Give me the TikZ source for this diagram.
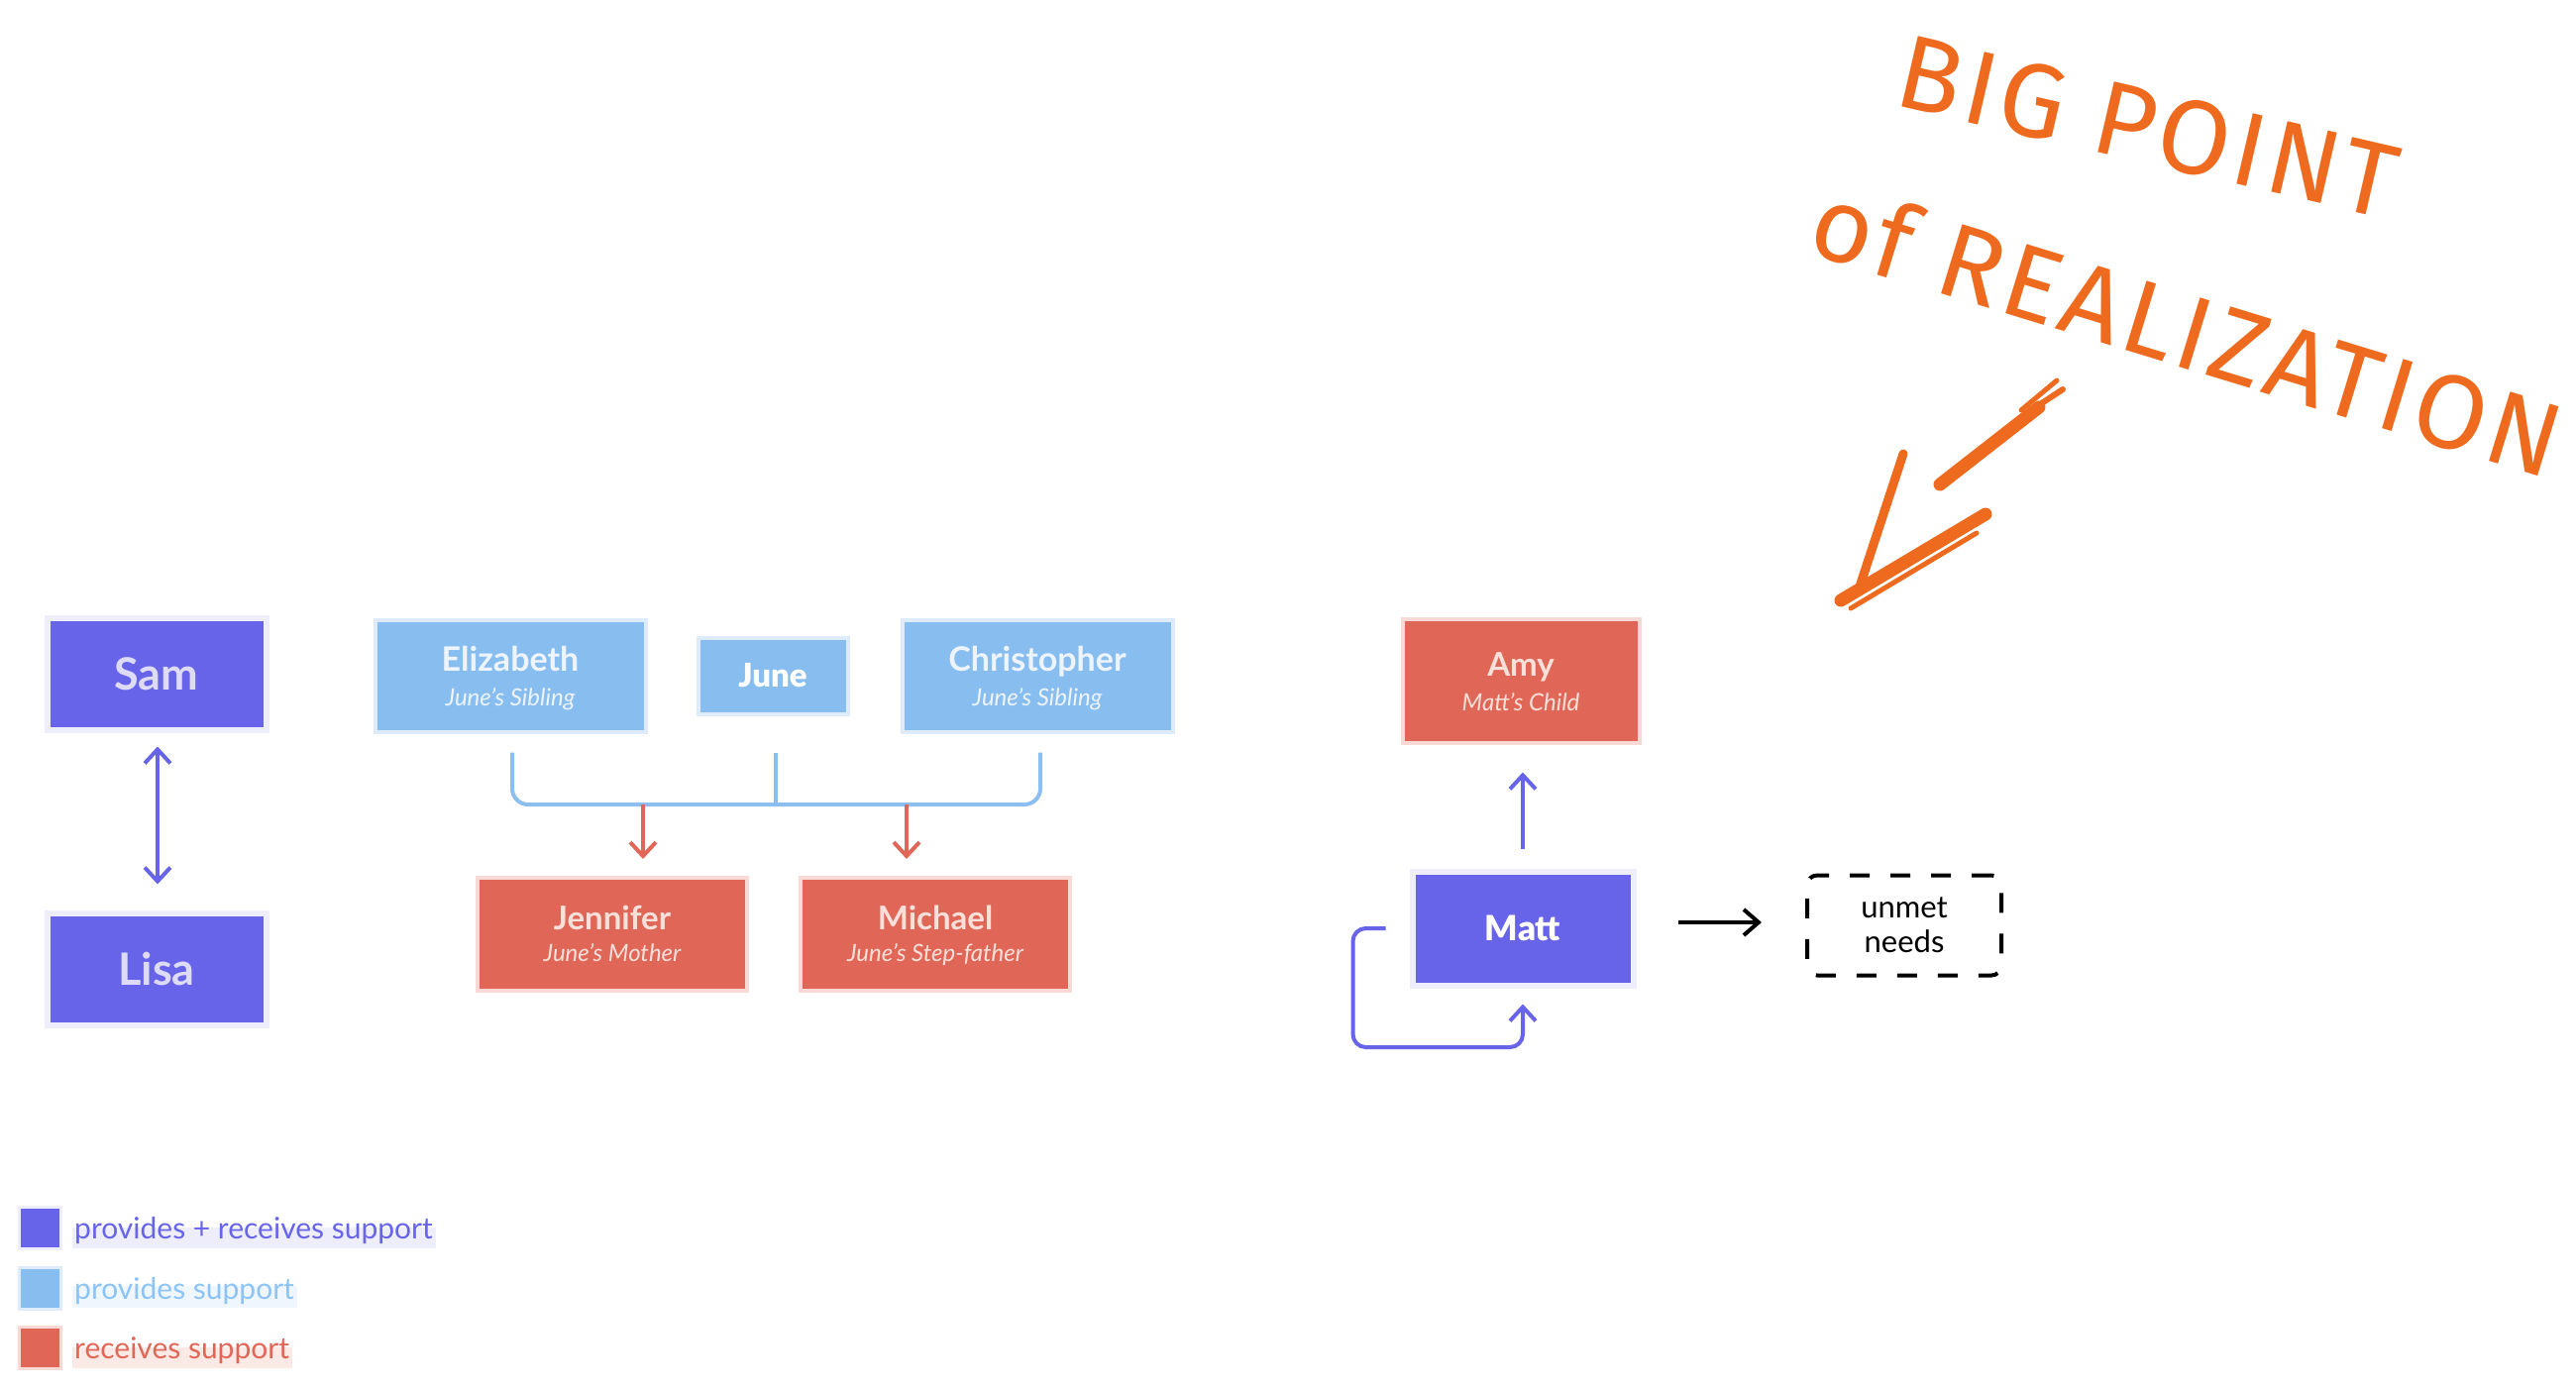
\documentclass[tikz,border=0pt]{standalone}
\usepackage{fontspec}
\usetikzlibrary{arrows.meta,calc,backgrounds}
\newfontfamily\latoB{Lato Bold}
\newfontfamily\latoH{Lato Black}
\newfontfamily\latoLI{Lato Italic}
\newfontfamily\latoR{Lato}
\newfontfamily\handfont{Fira Sans}[LetterSpace=4]
\definecolor{pp}{HTML}{6764EA}
\definecolor{ppl}{HTML}{EEEDFB}
\definecolor{ppt}{HTML}{DEDBF8}
\definecolor{bl}{HTML}{88BDF0}
\definecolor{bll}{HTML}{DDEBFA}
\definecolor{blt}{HTML}{EDF4FD}
\definecolor{brk}{HTML}{8CBEF0}
\definecolor{rd}{HTML}{E06757}
\definecolor{rdl}{HTML}{F8D9D5}
\definecolor{rdt}{HTML}{FBE0DA}
\definecolor{og}{HTML}{EE6A1E}
\definecolor{hlpp}{HTML}{EEEDFB}
\definecolor{hlbl}{HTML}{F0F6FD}
\definecolor{hlrd}{HTML}{FBE9E6}
\definecolor{legbltext}{HTML}{8CC4F5}
\begin{document}
\begin{tikzpicture}[x=1pt,y=-1pt,
  ppbox/.style={fill=pp, draw=ppl, line width=6pt, inner sep=0pt},
  blbox/.style={fill=bl, draw=bll, line width=4pt, inner sep=0pt},
  rdbox/.style={fill=rd, draw=rdl, line width=4pt, inner sep=0pt},
  bigbox/.style={minimum width=273pt, minimum height=113pt},
  nametxt/.style={anchor=base, inner sep=0pt, font=\latoB\fontsize{34}{40}\selectfont},
  subtxt/.style={anchor=base, inner sep=0pt, font=\latoLI\fontsize{24}{28}\selectfont},
  pparr/.style={draw=pp, line width=4pt, -{Straight Barb[length=14pt,width=26pt]}},
  rdarr/.style={draw=rd, line width=4pt, -{Straight Barb[length=14pt,width=26pt]}},
  blkarr/.style={draw=black, line width=4pt, -{Straight Barb[length=15pt,width=26pt]}},
  brkline/.style={draw=brk, line width=4pt},
  legsq/.style={minimum size=42pt, line width=3pt, inner sep=0pt},
  legtxt/.style={anchor=base west, inner sep=0pt, font=\latoR\fontsize{30}{36}\selectfont},
  hand/.style={text=og, inner sep=0pt, font=\handfont\fontsize{106}{114}\selectfont},
  handstroke/.style={draw=og, line cap=round, line join=round}
]
\useasboundingbox (0,0) rectangle (2600,1402);

% Sam and Lisa
\node[ppbox, minimum width=221pt, minimum height=113pt, text=ppt,
      font=\latoB\fontsize{45}{54}\selectfont] (Sam) at (158,680) {Sam};
\node[ppbox, minimum width=221pt, minimum height=113pt, text=ppt,
      font=\latoB\fontsize{45}{54}\selectfont] (Lisa) at (158,978) {Lisa};
\draw[draw=pp, line width=4pt, {Straight Barb[length=14pt,width=26pt]}-{Straight Barb[length=14pt,width=26pt]}]
  ($(Sam.south)+(1,14)$) -- ($(Lisa.north)+(1,-26)$);

% June's family
\node[blbox, bigbox] (E) at (515,682) {};
\node[nametxt, text=blt] (Ename) at ($(E.center)+(0,-5)$) {Elizabeth};
\node[subtxt, text=blt] (Esub) at ($(E.center)+(0,30)$) {June’s Sibling};

\node[blbox, minimum width=151pt, minimum height=77pt, text=white,
      font=\latoH\fontsize{33}{40}\selectfont] (J) at (780,682) {June};

\node[blbox, bigbox] (C) at (1047,682) {};
\node[nametxt, text=blt] (Cname) at ($(C.center)+(0,-5)$) {Christopher};
\node[subtxt, text=blt] (Csub) at ($(C.center)+(0,30)$) {June’s Sibling};

\node[rdbox, minimum width=272pt, minimum height=114pt] (Jen) at (618,943) {};
\node[nametxt, text=rdt, font=\latoB\fontsize{33}{40}\selectfont] (Jenname) at ($(Jen.center)+(0,-5)$) {Jennifer};
\node[subtxt, text=rdt] (Jensub) at ($(Jen.center)+(0,27)$) {June’s Mother};

\node[rdbox, minimum width=272pt, minimum height=114pt] (Mic) at (944,943) {};
\node[nametxt, text=rdt, font=\latoB\fontsize{33}{40}\selectfont] (Micname) at ($(Mic.center)+(0,-5)$) {Michael};
\node[subtxt, text=rdt] (Micsub) at ($(Mic.center)+(0,27)$) {June’s Step-father};

% bracket
\coordinate (brE) at ($(E.south)+(2,19)$);
\coordinate (brC) at ($(C.south)+(3,19)$);
\coordinate (brJ) at ($(J.south)+(3,37)$);
\coordinate (bar) at (0,812);
\draw[brkline, rounded corners=16pt] (brE) |- (brC |- bar) -- (brC);
\draw[brkline] (brJ) -- (brJ |- bar);
\coordinate (jstart) at (649,812);
\coordinate (mstart) at (915,812);
\draw[rdarr, shorten >=17pt] (jstart) -- (jstart |- Jen.north);
\draw[rdarr, shorten >=17pt] (mstart) -- (mstart |- Mic.north);

% Matt and Amy
\node[rdbox, minimum width=239pt, minimum height=125pt] (Amy) at (1535,687) {};
\node[nametxt, text=rdt, font=\latoB\fontsize{33}{40}\selectfont] (Amyname) at ($(Amy.center)+(0,-5)$) {Amy};
\node[subtxt, text=rdt] (Amysub) at ($(Amy.center)+(0,30)$) {Matt’s Child};

\node[ppbox, minimum width=223pt, minimum height=115pt, text=white,
      font=\latoH\fontsize{35}{42}\selectfont] (Matt) at (1537,937) {Matt};

\draw[pparr] ($(Matt.north)+(0,-20)$) -- ($(Matt.north |- Amy.south)+(0,28)$);
\draw[pparr, rounded corners=13pt] ($(Matt.west)+(-24,0)$) -| ++(-33,120) -| ($(Matt.south)+(0,16)$);

\node[draw=black, line width=4pt, dash pattern=on 20pt off 21pt, rounded corners=10pt,
      minimum width=196pt, minimum height=101pt, align=center, inner sep=0pt,
      font=\latoR\fontsize{31}{35}\selectfont] (U) at (1922,934) {unmet\\needs};
\draw[blkarr] ($(Matt.east)+(42,-6)$) -- ($(U.west)+(-44,-3)$);

% legend
\node[legsq, fill=pp, draw=ppl] (L1) at (40.5,1239) {};
\node[legsq, fill=bl, draw=bll] (L2) at (40.5,1300) {};
\node[legsq, fill=rd, draw=rdl] (L3) at (40.5,1360) {};
\node[legtxt, text=pp] (T1) at (75,1250) {provides + receives support};
\node[legtxt, text=legbltext] (T2) at (75,1311) {provides support};
\node[legtxt, text=rd] (T3) at (75,1371) {receives support};
\begin{scope}[on background layer]
  \fill[hlpp] ($(T1.base west)+(-2,-11)$) rectangle ($(T1.base east)+(3,10)$);
  \fill[hlbl] ($(T2.base west)+(-2,-13)$) rectangle ($(T2.base east)+(3,9)$);
  \fill[hlrd] ($(T3.base west)+(-2,-11)$) rectangle ($(T3.base east)+(3,10)$);
\end{scope}

% handwritten note
\node[hand, rotate=-13] (big) at (2168,128) {BIG POINT};
\node[hand, rotate=-17] (real) at (2208,332) {of REALIZATION};
\draw[handstroke, line width=9pt] (1921,458) -- (1877,592);
\draw[handstroke, line width=13pt] (1858,606) -- (2004,519);
\draw[handstroke, line width=5pt] (1868,614) -- (1995,538);
\draw[handstroke, line width=13pt] (1958,489) -- (2058,411);
\draw[handstroke, line width=6pt] (2050,414) -- (2082,393);
\draw[handstroke, line width=5pt] (2040,414) -- (2076,384);
\end{tikzpicture}
\end{document}
